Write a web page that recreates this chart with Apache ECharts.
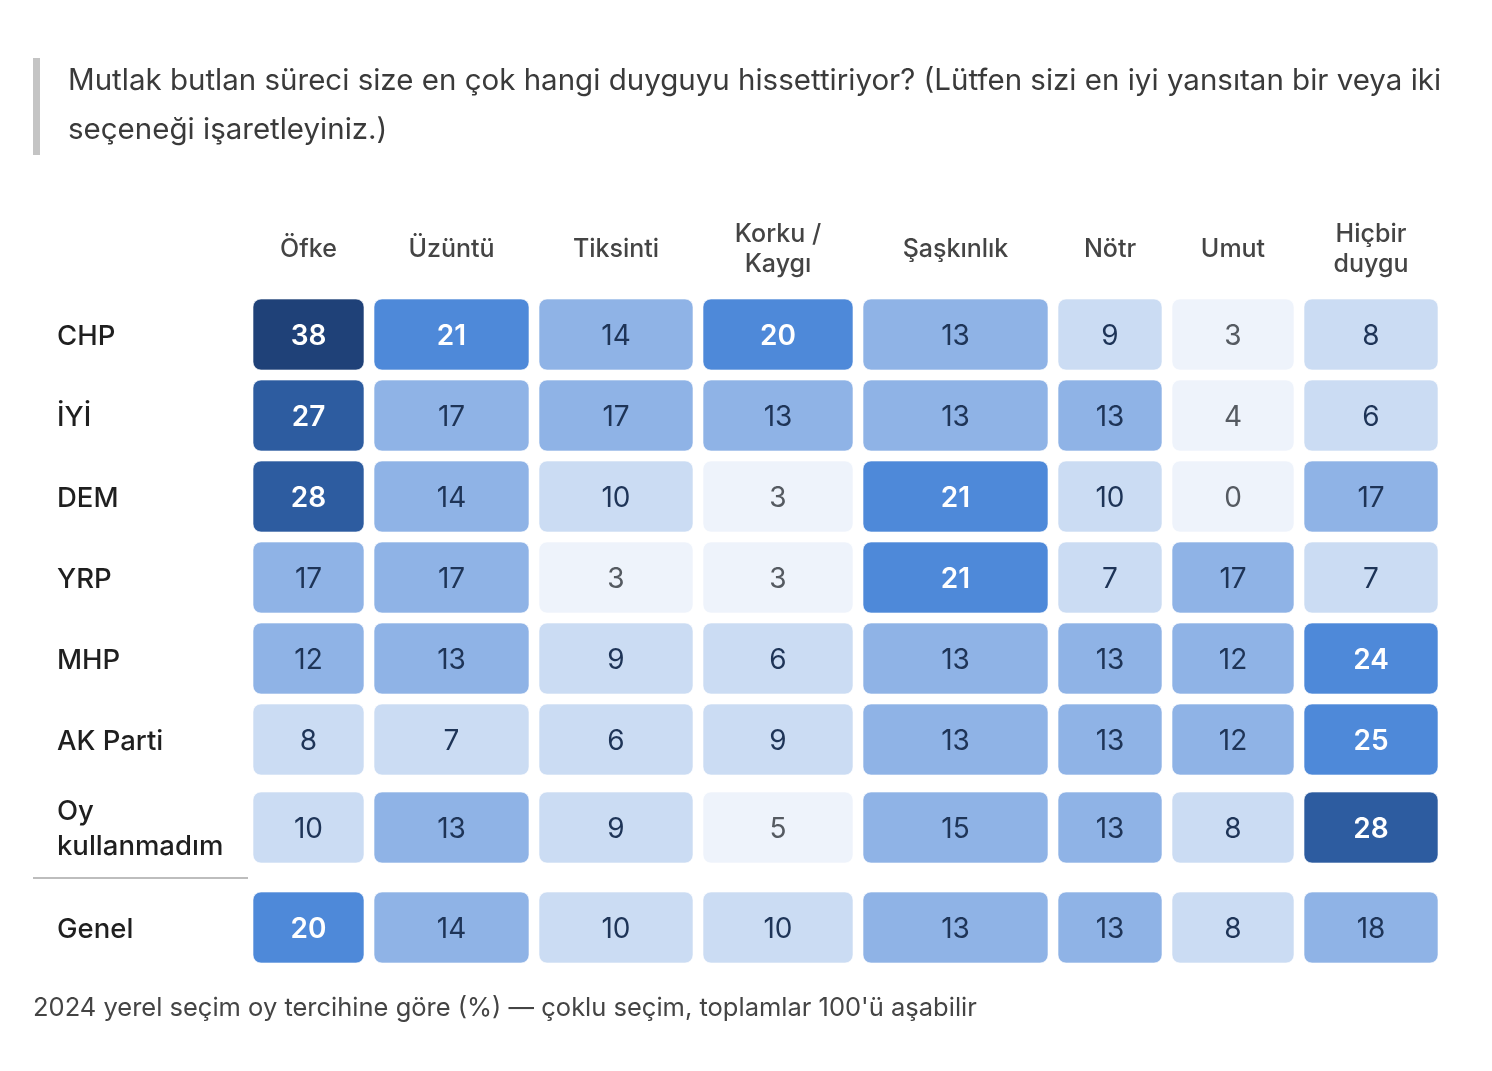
<!DOCTYPE html>
<html>
<head>
<meta charset="utf-8">
<script src="https://cdn.jsdelivr.net/npm/echarts@6/dist/echarts.min.js"></script>
<style>
  html, body { margin: 0; padding: 0; background: #fff; }
  #chart { width: 1492px; height: 1071px; }
</style>
</head>
<body>
<div id="chart"></div>
<script>
// satırlar (2024 yerel seçim oy tercihi)
const groups = ['CHP', 'İYİ', 'DEM', 'YRP', 'MHP', 'AK Parti', 'Oy\nkullanmadım', 'Genel']
// sütun başlıkları
const emotions = ['Öfke', 'Üzüntü', 'Tiksinti', 'Korku /\nKaygı', 'Şaşkınlık', 'Nötr', 'Umut', 'Hiçbir\nduygu']
// değerler (%), her duygu için satır sırasıyla
const ofke = [38, 27, 28, 17, 12, 8, 10, 20]
const uzuntu = [21, 17, 14, 17, 13, 7, 13, 14]
const tiksinti = [14, 17, 10, 3, 9, 6, 9, 10]
const korku = [20, 13, 3, 3, 6, 9, 5, 10]
const saskinlik = [13, 13, 21, 21, 13, 13, 15, 13]
const notr = [9, 13, 10, 7, 13, 13, 13, 13]
const umut = [3, 4, 0, 17, 12, 12, 8, 8]
const hicbir = [8, 6, 17, 7, 24, 25, 28, 18]
const columns = [ofke, uzuntu, tiksinti, korku, saskinlik, notr, umut, hicbir]

const titleText = 'Mutlak butlan süreci size en çok hangi duyguyu hissettiriyor? (Lütfen sizi en iyi yansıtan bir veya iki\nseçeneği işaretleyiniz.)'
const footText = "2024 yerel seçim oy tercihine göre (%) — çoklu seçim, toplamlar 100'ü aşabilir"

// yerleşim (piksel birimli eksen)
const colWidths = [111, 155, 154, 150, 185, 104, 122, 134]
const colGap = 10
const colStart = []
let acc = 0
colWidths.forEach(w => { colStart.push(acc); acc += w + colGap })
const gridWidth = acc - colGap
const rowTop = [0, 81, 162, 243, 324, 405, 493, 593]
const rowHeight = 71
const gridHeight = rowTop[rowTop.length - 1] + rowHeight

const font = 'Inter, "Noto Sans", sans-serif'

function cellColor (v) {
  if (v >= 31) return '#1f4178'
  if (v >= 26) return '#2d5ca0'
  if (v >= 20) return '#4e89d9'
  if (v >= 11) return '#8fb3e6'
  if (v >= 6) return '#cbdcf3'
  return '#eef3fb'
}
function textColor (v) {
  if (v >= 20) return '#ffffff'
  if (v >= 6) return '#1e3457'
  return '#555a61'
}

const cellData = []
columns.forEach((col, c) => {
  col.forEach((v, r) => cellData.push([c, r, v]))
})

const chart = echarts.init(document.getElementById('chart'))
chart.setOption({
  animation: false,
  title: [
    {
      text: titleText,
      left: 68,
      top: 57,
      padding: 0,
      textStyle: { fontFamily: font, fontSize: 29.5, fontWeight: 'normal', color: '#3a3a3a', lineHeight: 49 }
    },
    {
      text: footText,
      left: 33,
      top: 994,
      padding: 0,
      textStyle: { fontFamily: font, fontSize: 25.5, fontWeight: 'normal', color: '#444', lineHeight: 28 }
    }
  ],
  graphic: [
    { type: 'rect', shape: { x: 33, y: 58, width: 7, height: 97 }, style: { fill: '#c4c4c4' } },
    { type: 'line', shape: { x1: 33, y1: 878, x2: 248, y2: 878 }, style: { stroke: '#bdbdbd', lineWidth: 2 } }
  ],
  grid: { left: 253, top: 299, width: gridWidth, height: gridHeight },
  xAxis: { type: 'value', min: 0, max: gridWidth, show: false },
  yAxis: { type: 'value', min: 0, max: gridHeight, inverse: true, show: false },
  series: [
    {
      type: 'custom',
      data: cellData,
      renderItem (params, api) {
        const c = api.value(0)
        const r = api.value(1)
        const v = api.value(2)
        const p0 = api.coord([colStart[c], rowTop[r]])
        const p1 = api.coord([colStart[c] + colWidths[c], rowTop[r] + rowHeight])
        return {
          type: 'rect',
          shape: { x: p0[0], y: p0[1], width: p1[0] - p0[0], height: p1[1] - p0[1], r: 8 },
          style: { fill: cellColor(v), stroke: 'rgba(255,255,255,0.6)', lineWidth: 1 },
          textContent: {
            style: {
              text: String(v),
              fill: textColor(v),
              fontFamily: font,
              fontSize: 28,
              fontWeight: v >= 20 ? 600 : 'normal'
            }
          },
          textConfig: { position: 'inside', offset: [0, 2] }
        }
      }
    },
    {
      type: 'custom',
      data: emotions.map((e, i) => [i, e]),
      renderItem (params, api) {
        const c = api.value(0)
        const p = api.coord([colStart[c] + colWidths[c] / 2, -50])
        return {
          type: 'text',
          x: p[0],
          y: p[1],
          style: {
            text: emotions[c],
            fill: '#444',
            fontFamily: font,
            fontSize: 25,
            fontWeight: 500,
            lineHeight: 30,
            align: 'center',
            verticalAlign: 'middle'
          }
        }
      }
    },
    {
      type: 'custom',
      data: groups.map((g, i) => [i, g]),
      renderItem (params, api) {
        const r = api.value(0)
        const p = api.coord([0, rowTop[r] + rowHeight / 2])
        return {
          type: 'text',
          x: p[0] - 196,
          y: p[1] + 2,
          style: {
            text: groups[r],
            fill: '#1f1f1f',
            fontFamily: font,
            fontSize: 27.5,
            fontWeight: 500,
            lineHeight: 35,
            align: 'left',
            verticalAlign: 'middle'
          }
        }
      }
    }
  ]
})
</script>
</body>
</html>
